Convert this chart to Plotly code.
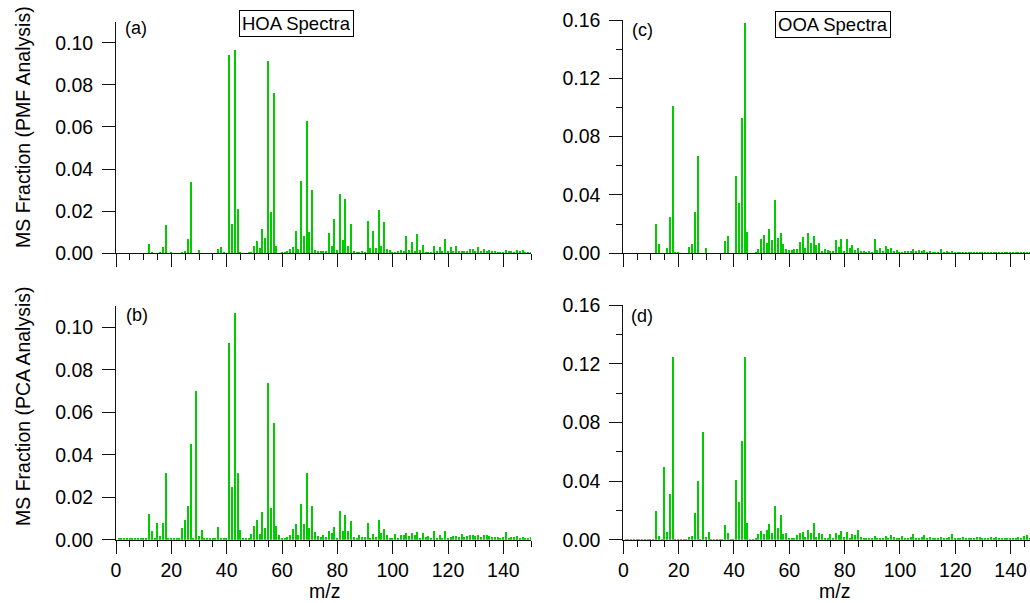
import plotly.graph_objects as go

W, H = 1030, 603

mz = list(range(1, 151))

# Panel (a): HOA spectra, PMF analysis (m/z 1..150)
hoa_pmf = [
    0, 0, 0, 0, 0, 0, 0, 0, 0, 0,
    0, 0.0047, 0.0005, 0, 0, 0.0004, 0.0031, 0.0137, 0, 0.0004,
    0, 0, 0, 0.0005, 0.0010, 0.0069, 0.0342, 0, 0, 0.0016,
    0, 0, 0, 0, 0, 0, 0.0020, 0.0031, 0.0003, 0,
    0.0942, 0.0140, 0.0969, 0.0213, 0.0005, 0, 0, 0.0004, 0.0005, 0.0038,
    0.0058, 0.0025, 0.0115, 0.0074, 0.0917, 0.0198, 0.0764, 0.0038, 0, 0.0004,
    0.0008, 0.0013, 0.0024, 0.0031, 0.0107, 0.0024, 0.0343, 0.0085, 0.0628, 0.0101,
    0.0304, 0.0016, 0.0010, 0.0013, 0.0010, 0.0010, 0.0099, 0.0036, 0.0162, 0.0016,
    0.0283, 0.0063, 0.0257, 0.0038, 0.0139, 0.0013, 0.0006, 0.0005, 0.0010, 0.0005,
    0.0153, 0.0028, 0.0105, 0.0025, 0.0205, 0.0035, 0.0148, 0.0024, 0.0016, 0.0006,
    0.0006, 0.0010, 0.0016, 0.0010, 0.0085, 0.0019, 0.0055, 0.0013, 0.0091, 0.0016,
    0.0043, 0.0006, 0.0006, 0.0004, 0.0035, 0.0013, 0.0030, 0.0013, 0.0069, 0.0013,
    0.0030, 0.0013, 0.0036, 0.0010, 0.0010, 0.0013, 0.0013, 0.0024, 0.0024, 0.0010,
    0.0030, 0.0013, 0.0024, 0.0010, 0.0019, 0.0010, 0.0013, 0.0005, 0.0006, 0.0003,
    0.0016, 0.0010, 0.0013, 0.0006, 0.0019, 0.0010, 0.0019, 0.0005, 0.0005, 0.0006,
]

# Panel (b): HOA spectra, PCA analysis
hoa_pca = [
    0.0004, 0.0004, 0.0004, 0.0004, 0.0004, 0.0004, 0.0004, 0.0004, 0.0004, 0.0004,
    0.0004, 0.0122, 0.0039, 0.0004, 0.0080, 0.0017, 0.0080, 0.0313, 0.0004, 0.0004,
    0.0004, 0.0004, 0.0004, 0.0056, 0.0095, 0.0158, 0.0451, 0.0004, 0.0701, 0.0017,
    0.0045, 0.0004, 0.0004, 0.0004, 0.0004, 0.0004, 0.0059, 0.0010, 0.0004, 0.0004,
    0.0926, 0.0246, 0.1069, 0.0313, 0.0045, 0.0004, 0.0004, 0.0009, 0.0028, 0.0064,
    0.0092, 0.0025, 0.0130, 0.0055, 0.0739, 0.0147, 0.0548, 0.0063, 0.0022, 0.0006,
    0.0004, 0.0013, 0.0020, 0.0049, 0.0075, 0.0022, 0.0169, 0.0075, 0.0313, 0.0055,
    0.0157, 0.0036, 0.0016, 0.0014, 0.0022, 0.0011, 0.0041, 0.0033, 0.0059, 0.0006,
    0.0135, 0.0041, 0.0114, 0.0039, 0.0089, 0.0013, 0.0006, 0.0022, 0.0011, 0.0013,
    0.0077, 0.0009, 0.0028, 0.0011, 0.0092, 0.0030, 0.0052, 0.0023, 0.0009, 0.0008,
    0.0025, 0.0006, 0.0020, 0.0020, 0.0033, 0.0017, 0.0030, 0.0020, 0.0036, 0.0009,
    0.0030, 0.0011, 0.0017, 0.0008, 0.0039, 0.0008, 0.0020, 0.0008, 0.0039, 0.0008,
    0.0014, 0.0017, 0.0017, 0.0014, 0.0027, 0.0011, 0.0017, 0.0022, 0.0022, 0.0017,
    0.0022, 0.0011, 0.0020, 0.0020, 0.0017, 0.0013, 0.0011, 0.0014, 0.0008, 0.0011,
    0.0034, 0.0009, 0.0013, 0.0014, 0.0017, 0.0008, 0.0011, 0.0009, 0.0008, 0.0011,
]

# Panel (c): OOA spectra, PMF analysis
ooa_pmf = [
    0, 0, 0, 0, 0, 0, 0, 0, 0, 0,
    0, 0.0201, 0.0062, 0, 0, 0.0039, 0.0247, 0.1010, 0.0003, 0.0003,
    0, 0, 0, 0.0041, 0.0066, 0.0283, 0.0670, 0, 0, 0.0039,
    0, 0, 0, 0, 0, 0, 0.0087, 0.0119, 0, 0,
    0.0530, 0.0345, 0.0928, 0.1580, 0.0149, 0, 0, 0.0011, 0.0027, 0.0096,
    0.0123, 0.0071, 0.0167, 0.0091, 0.0368, 0.0107, 0.0142, 0.0064, 0.0030, 0.0023,
    0.0023, 0.0027, 0.0030, 0.0075, 0.0114, 0.0037, 0.0139, 0.0069, 0.0119, 0.0055,
    0.0069, 0.0018, 0.0027, 0.0023, 0.0016, 0.0018, 0.0091, 0.0046, 0.0100, 0.0016,
    0.0100, 0.0039, 0.0057, 0.0023, 0.0039, 0.0016, 0.0016, 0.0009, 0.0018, 0.0007,
    0.0096, 0.0023, 0.0034, 0.0018, 0.0050, 0.0027, 0.0034, 0.0018, 0.0023, 0.0011,
    0.0011, 0.0014, 0.0014, 0.0016, 0.0030, 0.0014, 0.0023, 0.0014, 0.0023, 0.0011,
    0.0016, 0.0011, 0.0011, 0.0009, 0.0027, 0.0011, 0.0018, 0.0011, 0.0014, 0.0011,
    0.0011, 0.0009, 0.0011, 0.0009, 0.0011, 0.0009, 0.0011, 0.0009, 0.0011, 0.0009,
    0.0011, 0.0009, 0.0011, 0.0009, 0.0009, 0.0009, 0.0011, 0.0009, 0.0009, 0.0009,
    0.0011, 0.0009, 0.0009, 0.0009, 0.0011, 0.0009, 0.0009, 0.0009, 0.0009, 0.0009,
]

# Panel (d): OOA spectra, PCA analysis
ooa_pca = [
    0.0004, 0.0004, 0.0004, 0.0004, 0.0004, 0.0004, 0.0004, 0.0004, 0.0004, 0.0004,
    0.0004, 0.0193, 0.0023, 0.0004, 0.0497, 0.0054, 0.0313, 0.1246, 0.0004, 0.0004,
    0.0004, 0.0004, 0.0004, 0.0018, 0.0023, 0.0182, 0.0397, 0.0004, 0.0735, 0.0018,
    0.0052, 0.0004, 0.0004, 0.0004, 0.0004, 0.0004, 0.0100, 0.0045, 0.0004, 0.0004,
    0.0409, 0.0259, 0.0672, 0.1246, 0.0114, 0.0004, 0.0004, 0.0009, 0.0036, 0.0059,
    0.0041, 0.0068, 0.0109, 0.0048, 0.0229, 0.0079, 0.0166, 0.0036, 0.0043, 0.0014,
    0.0009, 0.0014, 0.0034, 0.0045, 0.0050, 0.0018, 0.0068, 0.0045, 0.0111, 0.0020,
    0.0043, 0.0041, 0.0009, 0.0014, 0.0036, 0.0009, 0.0048, 0.0032, 0.0057, 0.0016,
    0.0050, 0.0014, 0.0039, 0.0032, 0.0068, 0.0020, 0.0009, 0.0011, 0.0009, 0.0011,
    0.0025, 0.0011, 0.0014, 0.0011, 0.0027, 0.0014, 0.0032, 0.0020, 0.0011, 0.0009,
    0.0025, 0.0011, 0.0014, 0.0016, 0.0036, 0.0014, 0.0011, 0.0016, 0.0030, 0.0014,
    0.0016, 0.0011, 0.0009, 0.0011, 0.0016, 0.0009, 0.0011, 0.0016, 0.0039, 0.0009,
    0.0011, 0.0014, 0.0016, 0.0014, 0.0011, 0.0009, 0.0011, 0.0018, 0.0018, 0.0014,
    0.0011, 0.0014, 0.0016, 0.0014, 0.0018, 0.0011, 0.0014, 0.0011, 0.0009, 0.0011,
    0.0011, 0.0014, 0.0016, 0.0014, 0.0023, 0.0030, 0.0014, 0.0011, 0.0009, 0.0011,
]

panel_labels = ["(a)", "(b)", "(c)", "(d)"]
box_titles = ["HOA Spectra", "OOA Spectra"]
y_titles = ["MS Fraction (PMF Analysis)", "MS Fraction (PCA Analysis)"]
x_title = "m/z"
left_yticks = [0, 0.02, 0.04, 0.06, 0.08, 0.10]
right_yticks = [0, 0.04, 0.08, 0.12, 0.16]
x_ticks = [0, 20, 40, 60, 80, 100, 120, 140]

GREEN = "rgb(0,204,0)"
AX = "#111111"
FONT = "Liberation Sans, Arial, sans-serif"
TICK_SIZE = 19.5

def px(x):
    return x / W

def py(y):
    return 1 - y / H

# pixel geometry
xl = (116, 531)
xr = (623.3, 1030)
y_top = (21.7, 253.3)
y_bot = (306, 539.7)
y_top_r = (20, 253.3)
y_bot_r = (305, 539.7)

fig = go.Figure()
series = [hoa_pmf, hoa_pca, ooa_pmf, ooa_pca]
for i, vals in enumerate(series):
    fig.add_trace(go.Bar(
        x=mz, y=vals, width=0.5,
        marker=dict(color=GREEN, line=dict(width=0)),
        xaxis="x" if i == 0 else f"x{i+1}",
        yaxis="y" if i == 0 else f"y{i+1}",
        showlegend=False,
    ))

def xaxis(dom, rng, anchor, labels):
    return dict(
        domain=[px(dom[0]), px(dom[1])], range=rng, anchor=anchor,
        automargin=False,
        showline=True, linecolor=AX, linewidth=1,
        ticks="outside", ticklen=13, tickwidth=1, tickcolor=AX,
        tickvals=x_ticks, showticklabels=labels, ticklabelstandoff=0,
        minor=dict(ticks="outside", ticklen=6, tickwidth=1, tickcolor=AX, dtick=5, tick0=0),
        showgrid=False, zeroline=False,
        tickfont=dict(family=FONT, size=TICK_SIZE, color="#000"),
    )

def yaxis(dom, rng, anchor, ticks, minor):
    d = dict(
        domain=[py(dom[1]), py(dom[0])], range=rng, anchor=anchor,
        automargin=False,
        showline=True, linecolor=AX, linewidth=1,
        ticks="outside", ticklen=13, tickwidth=1, tickcolor=AX,
        tickvals=ticks, ticktext=[f"{t:.2f}" for t in ticks], ticklabelstandoff=5,
        showgrid=False, zeroline=False,
        tickfont=dict(family=FONT, size=TICK_SIZE, color="#000"),
    )
    if minor:
        d["minor"] = dict(ticks="outside", ticklen=6, tickwidth=1, tickcolor=AX, dtick=0.02, tick0=0)
    return d

x_max_r = (xr[1] - xr[0]) / ((xl[1] - xl[0]) / 150)

fig.update_layout(
    template="none",
    width=W, height=H,
    margin=dict(l=0, r=0, t=0, b=0, pad=0),
    paper_bgcolor="white", plot_bgcolor="white",
    bargap=0,
    xaxis=xaxis(xl, [0, 150], "y", False),
    yaxis=yaxis(y_top, [0, 0.11], "x", left_yticks, False),
    xaxis2=xaxis(xl, [0, 150], "y2", True),
    yaxis2=yaxis(y_bot, [0, 0.11], "x2", left_yticks, False),
    xaxis3=xaxis(xr, [0, x_max_r], "y3", False),
    yaxis3=yaxis(y_top_r, [0, 0.16], "x3", right_yticks, True),
    xaxis4=xaxis(xr, [0, x_max_r], "y4", True),
    yaxis4=yaxis(y_bot_r, [0, 0.16], "x4", right_yticks, True),
)

ann = []
def add_text(text, x, y, size, angle=0, box=False, yanchor="middle"):
    a = dict(text=text, x=px(x), y=py(y), xref="paper", yref="paper",
             xanchor="center", yanchor=yanchor, showarrow=False,
             textangle=angle, font=dict(family=FONT, size=size, color="#000"))
    if box:
        a.update(bordercolor="#000", borderwidth=1, borderpad=2, bgcolor="white")
    else:
        a.update(borderpad=0)
    ann.append(a)

add_text(panel_labels[0], 136, 28, 18)
add_text(panel_labels[1], 137, 315, 18)
add_text(panel_labels[2], 642, 30, 18)
add_text(panel_labels[3], 642, 316, 18)
add_text(box_titles[0], 296.7, 23.5, 18.5, box=True)
add_text(box_titles[1], 833.3, 24, 18.5, box=True)
add_text(y_titles[0], 23, 127, 19.5, angle=-90)
add_text(y_titles[1], 23, 407, 19.5, angle=-90)
add_text(x_title, 324, 603, 19.5, yanchor="bottom")
add_text(x_title, 834, 603, 19.5, yanchor="bottom")
fig.update_layout(annotations=ann)

fig.write_html("out.html")
